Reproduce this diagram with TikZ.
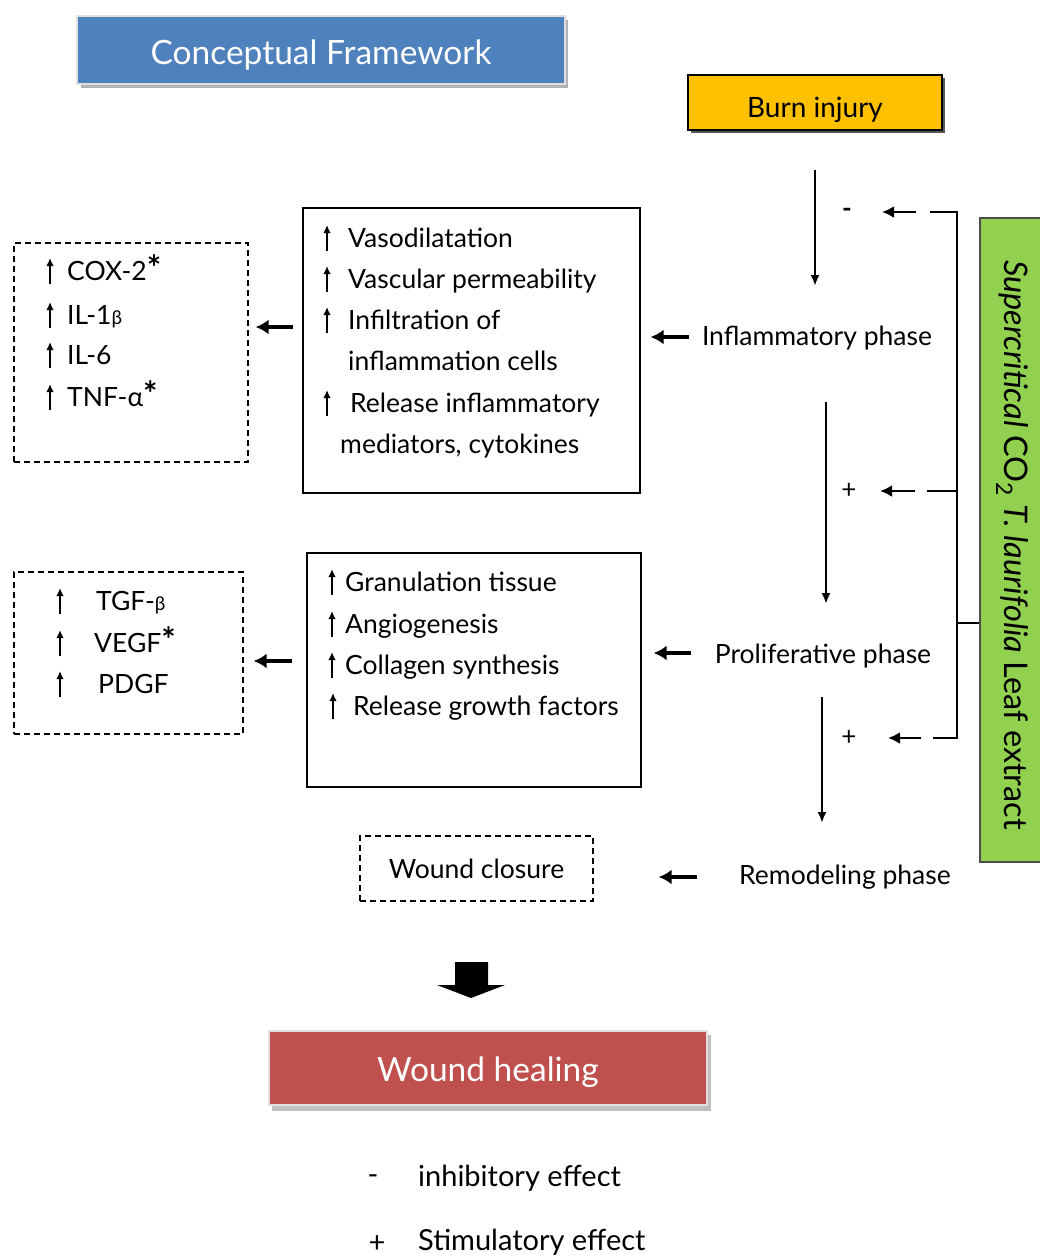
\documentclass[tikz,border=0pt]{standalone}
\usepackage{fontspec}
\setmainfont{Lato}
\usetikzlibrary{arrows.meta,calc}
\definecolor{titleblue}{HTML}{4F81BD}
\definecolor{burnorange}{HTML}{FFC000}
\definecolor{woundred}{HTML}{C0504D}
\definecolor{leafgreen}{HTML}{92D050}
\newcommand\starmark{{\fontsize{34}{34}\selectfont\bfseries *}}
\begin{document}
\begin{tikzpicture}[x=1pt,y=-1pt,
  row/.style={anchor=mid west, inner sep=0pt, font=\fontsize{26.5}{30}\selectfont},
  phase/.style={inner sep=0pt, font=\fontsize{26.5}{30}\selectfont},
  sbox/.style={draw, line width=1.3pt, inner sep=0pt},
  dbox/.style={draw, line width=1.3pt, dash pattern=on 6pt off 4pt, inner sep=0pt},
  varr/.style={line width=2.2pt, -{Latex[length=11pt,width=9pt]}},
  uparr/.style={line width=1.7pt, -{Latex[length=8pt,width=7.5pt]}},
  barr/.style={line width=4pt, -{Latex[length=13pt,width=15pt]}},
  brk/.style={line width=2.6pt},
  darr/.style={line width=2.6pt, -{Latex[length=12pt,width=12pt]}},
  sign/.style={inner sep=0pt, font=\fontsize{26}{28}\selectfont},
  legend/.style={anchor=mid west, inner sep=0pt, font=\fontsize{29}{32}\selectfont}]
\useasboundingbox (0,0) rectangle (1040,1258);
\fill[white] (0,0) rectangle (1040,1258);

% title
\fill[black!30] (81,20) rectangle (568,88);
\node[draw=black!12, line width=1.5pt, fill=titleblue, minimum width=488, minimum height=68,
  text height=28pt, text depth=0pt,
  text=white, font=\fontsize{33.5}{36}\selectfont] (title) at (321,50) {Conceptual Framework};

% burn injury
\fill[black!65] (691,78) rectangle (945,133);
\node[draw, line width=1.5pt, fill=burnorange, minimum width=254, minimum height=55,
  text height=30pt, text depth=0pt,
  font=\fontsize{28}{30}\selectfont] (burn) at (815,102.5) {Burn injury};

% green box
\node[draw=black!70, line width=1.5pt, fill=leafgreen, minimum width=66, minimum height=644, inner sep=0pt]
  (gbox) at (1013,540) {};
\node[rotate=-90, inner sep=0pt, font=\fontsize{32.5}{36}\selectfont] (gtext) at (1012,545)
  {\textit{Supercritical} CO\textsubscript{2} \textit{T. laurifolia} Leaf extract};

% phases
\node[phase] (infl) at (817,338) {Inflammatory phase};
\node[phase] (prolif) at (823,656) {Proliferative phase};
\node[phase] (remod) at (845,877) {Remodeling phase};

% vertical arrows
\coordinate (v1a) at (815,170); \coordinate (v1b) at (815,286);
\coordinate (v2a) at (826,402); \coordinate (v2b) at (826,604);
\coordinate (v3a) at (822,697); \coordinate (v3b) at (822,823);
\draw[varr] (v1a) -- (v1b);
\draw[varr] (v2a) -- (v2b);
\draw[varr] (v3a) -- (v3b);

% bracket from extract
\coordinate (bt) at (957,212); \coordinate (bm) at (957,491);
\coordinate (bb) at (957,738); \coordinate (bg) at (957,623);
\coordinate (t1) at (882,212); \coordinate (t2) at (880,491); \coordinate (t3) at (888,738);
\draw[brk] ([yshift=1.3pt]bt) -- ([yshift=-1.3pt]bb);
\draw[brk] (bg) -- (bg -| gbox.west);
\draw[darr, dash pattern=on 28pt off 14pt on 80pt off 1pt] ([xshift=1.3pt]bt) -- (t1);
\draw[darr, dash pattern=on 30pt off 12pt on 80pt off 1pt] (bm) -- (t2);
\draw[darr, dash pattern=on 25pt off 12pt on 80pt off 1pt] ([xshift=1.3pt]bb) -- (t3);
\node[sign] (s1) at (847,213) {\bfseries -};
\node[sign] (s2) at (849,491) {+};
\node[sign] (s3) at (849,738) {+};

% inflammatory box
\node[sbox, minimum width=337, minimum height=285] (ibox) at (471.5,350.5) {};
\node[row] (i1) at (319,245) {\hspace{29pt}Vasodilatation};
\node[row] (i2) at (319,286) {\hspace{29pt}Vascular permeability};
\node[row] (i3) at (319,327) {\hspace{29pt}Infiltration of};
\node[row] (i4) at (348,368) {inflammation cells};
\node[row] (i5) at (319,410) {\hspace{31pt}Release inflammatory};
\node[row] (i6) at (340,451) {mediators, cytokines};

% cytokine box
\node[dbox, minimum width=234, minimum height=219] (cbox) at (131,352.5) {};
\node[row] (c1) at (42,278) {\hspace{25pt}COX-2\starmark};
\node[row] (c2) at (42,322) {\hspace{25pt}IL-1{\fontsize{19}{20}\selectfont β}};
\node[row] (c3) at (42,362) {\hspace{25pt}IL-6};
\node[row] (c4) at (42,404) {\hspace{25pt}TNF-α\starmark};

% proliferative box
\node[sbox, minimum width=334, minimum height=234] (pbox) at (474,670) {};
\node[row] (p1) at (324,589) {\hspace{21pt}Granulation tissue};
\node[row] (p2) at (324,631) {\hspace{21pt}Angiogenesis};
\node[row] (p3) at (324,672) {\hspace{21pt}Collagen synthesis};
\node[row] (p4) at (325,713) {\hspace{28pt}Release growth factors};

% growth factor box
\node[dbox, minimum width=229, minimum height=162] (gfbox) at (128.5,653) {};
\node[row] (g1) at (52,608) {\hspace{44pt}TGF-{\fontsize{19}{20}\selectfont β}};
\node[row] (g2) at (52,650) {\hspace{42pt}VEGF\starmark};
\node[row] (g3) at (52,691) {\hspace{46pt}PDGF};

% small up arrows in front of rows
\foreach \n in {i1,i2,i3,i5,c1,c2,c3,c4,p1,p2,p3,p4,g1,g2,g3}
  \draw[uparr] ([xshift=8pt]\n.mid west) ++(0,6) -- ++(0,-26);

% wound closure
\node[dbox, minimum width=233, minimum height=65, font=\fontsize{26.5}{30}\selectfont] (close) at (476.5,868.5) {Wound closure};

% horizontal thick arrows
\draw[barr, shorten <=13pt, shorten >=10pt] ([yshift=1pt]infl.west) -- ([yshift=1pt]infl.west -| ibox.east);
\draw[barr, shorten <=24pt, shorten >=12pt] ([yshift=3pt]prolif.west) -- ([yshift=3pt]prolif.west -| pbox.east);
\draw[barr, shorten <=42pt, shorten >=65pt] (remod.west) -- (remod.west -| close.east);
\coordinate (h1) at (ibox.west |- 0,327);
\coordinate (h2) at (pbox.west |- 0,661);
\draw[barr, shorten <=9pt, shorten >=7pt] (h1) -- (h1 -| cbox.east);
\draw[barr, shorten <=14pt, shorten >=10pt] (h2) -- (h2 -| gfbox.east);

% wound healing
\fill[black!25] (272,1035) rectangle (711,1111);
\node[draw=black!12, line width=1.5pt, fill=woundred, minimum width=438, minimum height=74,
  text height=27pt, text depth=0pt,
  text=white, font=\fontsize{33.5}{36}\selectfont] (heal) at (488,1068) {Wound healing};

% block arrow
\fill (455,962) -- (488,962) -- (488,985) -- (505,985) -- (471,998) -- (437,985) -- (455,985) -- cycle;

% legend
\node[sign, font=\fontsize{29}{32}\selectfont] (lm) at (373,1180) {-};
\node[legend] (lt1) at (418,1184) {inhibitory effect};
\node[sign, font=\fontsize{29}{32}\selectfont] (lp) at (377,1244) {+};
\node[legend] (lt2) at (418,1248) {Stimulatory effect};
\end{tikzpicture}
\end{document}
